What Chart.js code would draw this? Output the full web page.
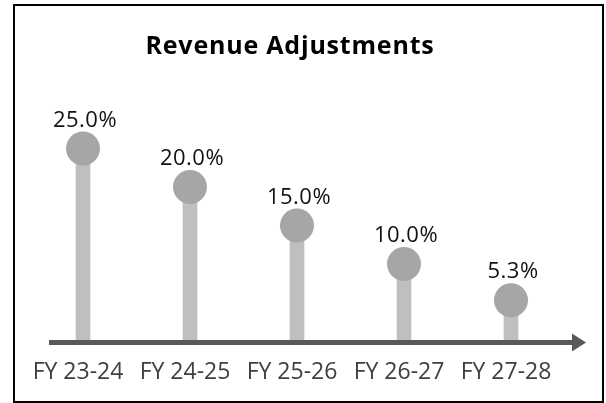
<!DOCTYPE html>
<html>
<head>
<meta charset="utf-8">
<script src="https://cdn.jsdelivr.net/npm/chart.js@4.4.0/dist/chart.umd.min.js"></script>
<style>
  html, body { margin: 0; padding: 0; background: #fff; }
  #wrap { position: relative; width: 606px; height: 403px; }
  #frame { position: absolute; left: 13px; top: 4px; width: 591px; height: 399px; box-sizing: border-box; border: 2px solid #000; pointer-events: none; }
  canvas { position: absolute; left: 0; top: 0; }
</style>
</head>
<body>
<div id="wrap">
  <canvas id="c" width="606" height="403"></canvas>
  <div id="frame"></div>
</div>
<script>
const categories = ["FY 23-24", "FY 24-25", "FY 25-26", "FY 26-27", "FY 27-28"];
const values = [25.0, 20.0, 15.0, 10.0, 5.3];
const chartTitle = "Revenue Adjustments";
const FONT = "'Open Sans', 'DejaVu Sans', sans-serif";

const decor = {
  id: 'decor',
  afterDatasetsDraw(chart) {
    const ctx = chart.ctx;
    const x = chart.scales.x;
    const ca = chart.chartArea;
    // axis arrow
    const x0 = x.getPixelForValue(0) - 34;
    const tip = x.getPixelForValue(categories.length - 1) + 75;
    const yAxis = ca.bottom + 1.5;
    ctx.save();
    ctx.fillStyle = '#595959';
    ctx.fillRect(x0, yAxis - 2.5, tip - 14 - x0, 5);
    ctx.beginPath();
    ctx.moveTo(tip - 14, yAxis - 9);
    ctx.lineTo(tip, yAxis);
    ctx.lineTo(tip - 14, yAxis + 9);
    ctx.closePath();
    ctx.fill();
    // value labels
    const meta = chart.getDatasetMeta(1);
    ctx.fillStyle = '#111';
    ctx.font = "22px " + FONT;
    ctx.letterSpacing = '0.5px';
    ctx.textAlign = 'center';
    ctx.textBaseline = 'alphabetic';
    meta.data.forEach((pt, i) => {
      ctx.fillText(values[i].toFixed(1) + '%', pt.x + 2, pt.y - 22);
    });
    // title
    ctx.fillStyle = '#000';
    ctx.font = "bold 25px " + FONT;
    ctx.letterSpacing = '0.8px';
    ctx.fillText(chartTitle, 290, 54);
    ctx.restore();
  }
};

new Chart(document.getElementById('c'), {
  type: 'bar',
  data: {
    labels: categories,
    datasets: [
      {
        type: 'bar',
        data: values,
        backgroundColor: '#BFBFC1',
        barThickness: 14,
        order: 2
      },
      {
        type: 'line',
        data: values,
        showLine: false,
        pointRadius: 17,
        pointHoverRadius: 17,
        pointBackgroundColor: '#A6A6A8',
        pointBorderWidth: 0,
        borderWidth: 0,
        order: 1
      }
    ]
  },
  options: {
    responsive: false,
    animation: false,
    events: [],
    layout: { padding: { left: 29.5, right: 41.5, top: 110, bottom: 0 } },
    plugins: {
      legend: { display: false },
      title: { display: false },
      tooltip: { enabled: false }
    },
    scales: {
      x: {
        offset: true,
        grid: { display: false, drawTicks: false },
        border: { display: false },
        ticks: {
          color: '#404040',
          font: { family: FONT, size: 23 },
          padding: 17.2,
          labelOffset: -5,
          maxRotation: 0,
          autoSkip: false
        }
      },
      y: {
        display: false,
        min: 0,
        max: 30
      }
    }
  },
  plugins: [decor]
});
</script>
</body>
</html>
